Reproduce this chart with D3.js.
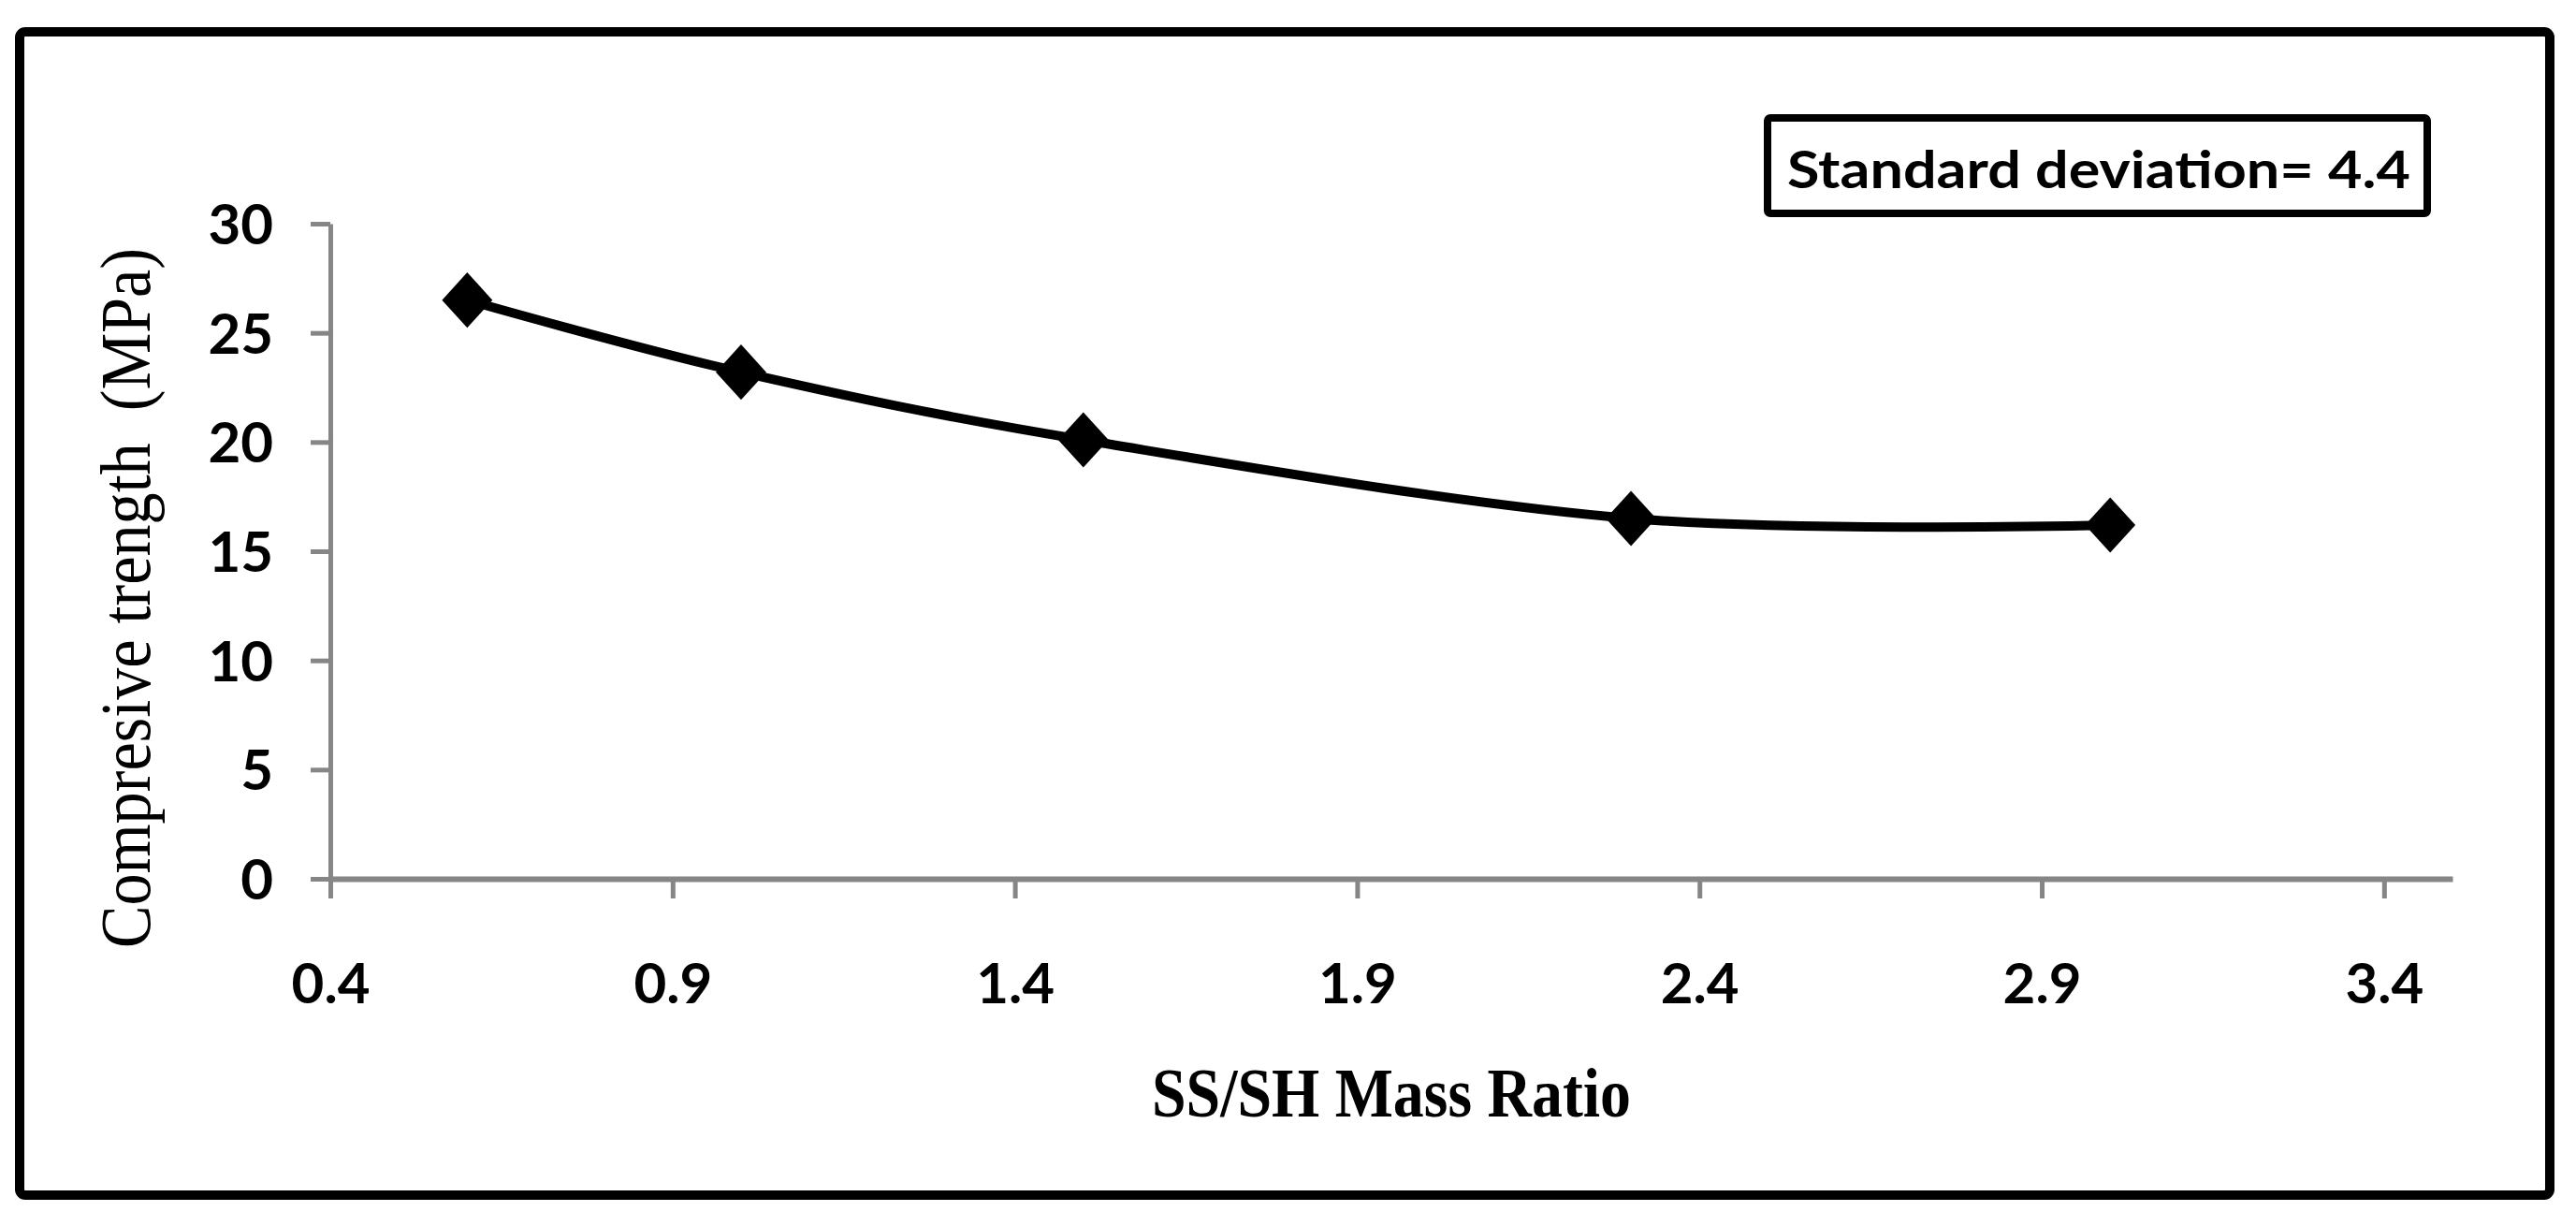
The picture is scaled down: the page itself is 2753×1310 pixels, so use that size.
<!DOCTYPE html>
<html>
<head>
<meta charset="utf-8">
<script src="https://cdn.jsdelivr.net/npm/d3@7"></script>
<style>
  html, body { margin: 0; padding: 0; background: #fff; }
  svg { display: block; }
</style>
</head>
<body>
<svg id="chart" width="2753" height="1310"></svg>
<script>
// ---- data ----
const ratios = [0.6, 1.0, 1.5, 2.3, 3.0];
const strengths = [26.5, 23.2, 20.1, 16.5, 16.2];
const xTicks = [0.4, 0.9, 1.4, 1.9, 2.4, 2.9, 3.4];
const yTicks = [0, 5, 10, 15, 20, 25, 30];
const xTitle = "SS/SH Mass Ratio";
const yTitle = "Compresive trength\u00A0\u00A0(MPa)";
const noteText = "Standard deviation= 4.4";

const svg = d3.select("#chart");
const W = 2753, H = 1310;

svg.append("rect").attr("width", W).attr("height", H).attr("fill", "#fff");

// outer frame
svg.append("rect")
  .attr("x", 21).attr("y", 34).attr("width", 2704).attr("height", 1243)
  .attr("rx", 6).attr("fill", "none").attr("stroke", "#000").attr("stroke-width", 10);

const x = d3.scaleLinear().domain([0.4, 3.5]).range([353, 2621]);
const y = d3.scaleLinear().domain([0, 30]).range([939, 239]);

const axisColor = "#868686";

// y axis
const gy = svg.append("g").attr("transform", `translate(${x(0.4)},0)`)
  .call(d3.axisLeft(y).tickValues(yTicks).tickSize(21).tickSizeOuter(0).tickPadding(40).tickFormat(d3.format("d")));
gy.select(".domain").attr("stroke", axisColor).attr("stroke-width", 5);
gy.selectAll(".tick line").attr("stroke", axisColor).attr("stroke-width", 5);
gy.selectAll(".tick text")
  .attr("fill", "#000").attr("font-family", "Lato, 'DejaVu Sans', sans-serif")
  .attr("font-weight", "bold").attr("font-size", 60).attr("dy", "0.36em");

// x axis
const gx = svg.append("g").attr("transform", `translate(0,${y(0)})`)
  .call(d3.axisBottom(x).tickValues(xTicks).tickSize(21).tickSizeOuter(0).tickFormat(d3.format(".1f")));
gx.select(".domain").attr("stroke", axisColor).attr("stroke-width", 6);
gx.selectAll(".tick line").attr("stroke", axisColor).attr("stroke-width", 5);
gx.selectAll(".tick text")
  .attr("fill", "#000").attr("font-family", "Lato, 'DejaVu Sans', sans-serif")
  .attr("font-weight", "bold").attr("font-size", 60)
  .attr("y", 111).attr("dy", "0.36em");

// line
const pts = ratios.map((r, i) => [r, strengths[i]]);
const line = d3.line().x(d => x(d[0])).y(d => y(d[1])).curve(d3.curveCardinal.tension(0));
svg.append("path").datum(pts).attr("d", line)
  .attr("fill", "none").attr("stroke", "#000").attr("stroke-width", 10).attr("stroke-linejoin", "round");

// markers
const sym = d3.symbol().type(d3.symbolSquare).size(1450);
svg.selectAll(".mk").data(pts).join("path").attr("class", "mk")
  .attr("d", sym)
  .attr("transform", d => `translate(${x(d[0])},${y(d[1])}) scale(1,1.1) rotate(45)`)
  .attr("fill", "#000");

// axis titles
svg.append("text")
  .attr("x", (x(0.4) + x(3.5)) / 2).attr("y", 1193)
  .attr("text-anchor", "middle")
  .attr("font-family", "'Liberation Serif', 'Times New Roman', serif")
  .attr("font-weight", "bold").attr("font-size", 74)
  .attr("textLength", 512).attr("lengthAdjust", "spacingAndGlyphs")
  .text(xTitle);

svg.append("text")
  .attr("transform", "translate(160,639) rotate(-90)")
  .attr("text-anchor", "middle")
  .attr("font-family", "'Liberation Serif', 'Times New Roman', serif")
  .attr("font-size", 76)
  .attr("textLength", 748).attr("lengthAdjust", "spacingAndGlyphs")
  .text(yTitle);

// note box
svg.append("rect")
  .attr("x", 1889).attr("y", 126).attr("width", 705).attr("height", 102)
  .attr("rx", 3).attr("fill", "#fff").attr("stroke", "#000").attr("stroke-width", 8);
svg.append("text")
  .attr("x", 1910).attr("y", 201)
  .attr("font-family", "Lato, 'DejaVu Sans', sans-serif")
  .attr("font-weight", "bold").attr("font-size", 56)
  .attr("textLength", 666).attr("lengthAdjust", "spacingAndGlyphs")
  .text(noteText);
</script>
</body>
</html>
